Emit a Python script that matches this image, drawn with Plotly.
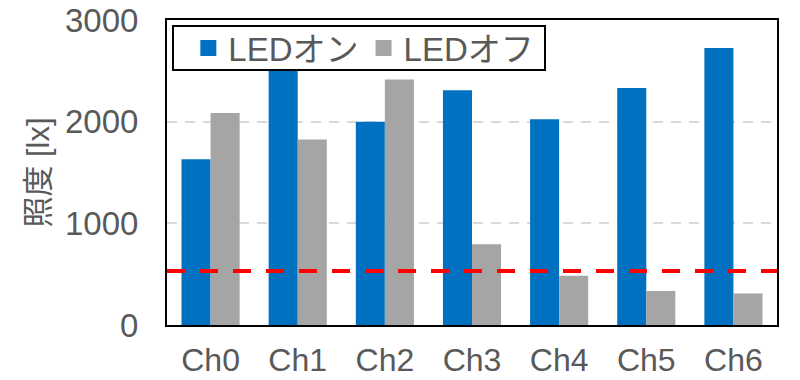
import plotly.graph_objects as go

categories = ["Ch0", "Ch1", "Ch2", "Ch3", "Ch4", "Ch5", "Ch6"]
led_on = [1630, 2650, 2000, 2310, 2025, 2330, 2725]
led_off = [2085, 1825, 2415, 795, 485, 335, 310]
threshold = 530
series_names = ["LEDオン", "LEDオフ"]
y_ticks = [0, 1000, 2000, 3000]

BLUE = "#0070C0"
GRAY = "#A5A5A5"
TEXT = "#595959"
FONT = "Liberation Sans, Arial, Noto Sans CJK JP, sans-serif"

fig = go.Figure()
fig.add_trace(go.Bar(x=categories, y=led_on, name=series_names[0],
                     marker=dict(color=BLUE, line=dict(width=0)), showlegend=False))
fig.add_trace(go.Bar(x=categories, y=led_off, name=series_names[1],
                     marker=dict(color=GRAY, line=dict(width=0)), showlegend=False))
# legend entries with larger square swatches
fig.add_trace(go.Scatter(x=[None], y=[None], mode="markers", name=series_names[0],
                         marker=dict(symbol="square", size=16, color=BLUE)))
fig.add_trace(go.Scatter(x=[None], y=[None], mode="markers", name=series_names[1],
                         marker=dict(symbol="square", size=16, color=GRAY)))

# threshold line
fig.add_shape(type="line", xref="paper", yref="y", x0=0, x1=1, y0=threshold, y1=threshold,
              line=dict(color="#FF0000", width=4, dash="18px,15px"), layer="above")
# legend frame (covers bars like the reference legend)
fig.add_shape(type="rect", xref="paper", yref="paper", x0=0.0098, x1=0.6197, y0=0.836, y1=0.980,
              line=dict(color="black", width=2), fillcolor="white", layer="above")

fig.update_layout(
    width=800, height=380,
    margin=dict(l=167, r=23, t=20, b=55, autoexpand=False),
    paper_bgcolor="white", plot_bgcolor="white",
    barmode="group", bargap=0.333, bargroupgap=0,
    font=dict(family=FONT, color=TEXT, size=30),
    showlegend=True,
    legend=dict(orientation="h", x=0.035, y=0.908, xanchor="left", yanchor="middle",
                bgcolor="rgba(0,0,0,0)", borderwidth=0,
                font=dict(size=33, color=TEXT), itemwidth=30,
                traceorder="normal"),
    xaxis=dict(showline=True, linecolor="black", linewidth=2, mirror=True, automargin=False,
               ticks="", ticklabelstandoff=6, tickfont=dict(size=32, color=TEXT), showgrid=False),
    yaxis=dict(range=[0, 3000], tickvals=y_ticks, showline=True, linecolor="black",
               linewidth=2, mirror=True, ticks="", ticklabelstandoff=20, automargin=False,
               ticklabeloverflow="allow",
               tickfont=dict(size=33, color=TEXT),
               showgrid=True, gridcolor="#D9D9D9", gridwidth=1.5, griddash="10px,8px",
               zeroline=False,
               title=dict(text="照度 [lx]", font=dict(size=31, color=TEXT), standoff=6)),
)

fig.write_html("out.html", config={"displayModeBar": False},
               post_script="document.body.style.margin='0';document.body.style.overflow='hidden';")
